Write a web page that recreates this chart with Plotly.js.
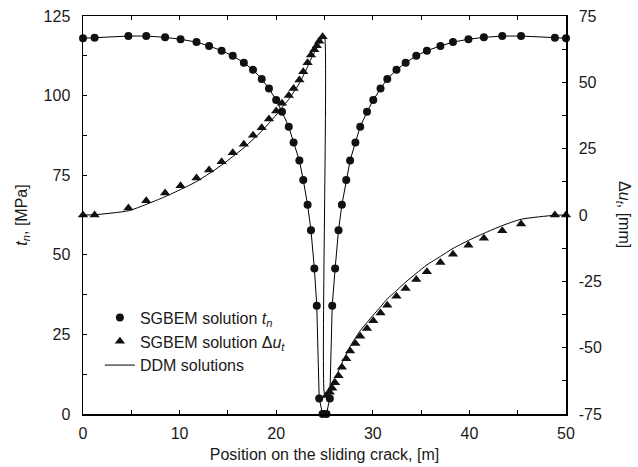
<!DOCTYPE html>
<html>
<head>
<meta charset="utf-8">
<script src="https://cdn.plot.ly/plotly-3.0.1.min.js"></script>
<style>html,body{margin:0;padding:0;background:#fff}#chart{width:638px;height:467px}</style>
</head>
<body>
<div id="chart"></div>
<script>
// Positions along the crack [m]
var posLeft  = [0, 1.2, 4.7, 6.55, 8.5, 10.1, 11.75, 13.05, 14.35, 15.5, 16.65, 17.6, 18.5, 19.25, 20.0, 20.6, 21.3, 21.8, 22.4, 22.8, 23.25, 23.6, 23.95, 24.2, 24.45, 24.8];
var posRight = [25.2, 25.55, 25.8, 26.1, 26.45, 26.8, 27.25, 27.65, 28.2, 28.7, 29.4, 30.05, 30.8, 31.5, 32.45, 33.4, 34.5, 35.6, 37.0, 38.3, 39.9, 41.5, 43.4, 45.35, 48.85, 50];
// SGBEM normal traction t_n [MPa]
var tnLeft  = [118.0, 118.2, 118.7, 118.7, 118.3, 117.7, 116.8, 115.6, 114.1, 112.5, 110.3, 108.1, 105.2, 102.2, 98.6, 94.9, 90.2, 85.3, 79.6, 73.5, 65.7, 57.7, 45.7, 34.0, 4.9, 0];
var tnRight = [0, 4.9, 34.0, 45.7, 57.7, 65.7, 73.5, 79.6, 85.3, 90.2, 94.9, 98.6, 102.2, 105.2, 108.1, 110.3, 112.5, 114.1, 115.6, 116.8, 117.7, 118.3, 118.7, 118.7, 118.2, 118.0];
// SGBEM sliding displacement Δu_t [mm]
var duLeft  = [0, 0, 2.6, 5.4, 8.3, 11.0, 13.9, 17.0, 20.1, 23.5, 26.7, 30.1, 32.9, 36.2, 39.2, 42.1, 45.0, 47.7, 50.9, 54.0, 57.4, 60.3, 62.3, 63.8, 65.5, 67.2];
var duRight = [-68.0, -66.8, -65.3, -63.2, -60.6, -57.4, -54.2, -51.3, -48.4, -45.7, -42.8, -39.9, -36.9, -34.0, -30.6, -27.7, -24.3, -21.4, -17.9, -14.8, -11.4, -8.8, -5.9, -3.4, 0, 0];
// DDM solution for Δu_t [mm]
var ddmDuX = [0, 1.2, 4.7, 6.55, 8.5, 10.1, 11.75, 13.05, 14.35, 15.5, 16.65, 17.6, 18.5, 19.25, 20.0, 20.6, 21.3, 21.8, 22.4, 22.8, 23.25, 23.6, 23.95, 24.2, 24.45, 24.8, 25, 25, 25.2, 25.55, 25.8, 26.1, 26.45, 26.8, 27.25, 27.65, 28.2, 28.7, 29.4, 30.05, 30.8, 31.5, 32.45, 33.4, 34.5, 35.6, 37.0, 38.3, 39.9, 41.5, 43.4, 45.35, 48.85, 50];
var ddmDuY = [0, 0.1, 1.6, 4.0, 6.9, 9.6, 12.6, 15.6, 18.8, 22.0, 25.3, 28.5, 31.6, 34.6, 37.7, 40.5, 43.6, 46.3, 49.6, 52.5, 55.9, 58.8, 61.2, 62.9, 64.6, 66.6, 67.5, -67.5, -66.6, -64.6, -62.9, -61.2, -58.8, -55.9, -52.5, -49.6, -46.3, -43.6, -40.5, -37.7, -34.6, -31.6, -28.5, -25.3, -22.0, -18.8, -15.6, -12.6, -9.6, -6.9, -4.0, -1.6, -0.1, 0];

// Tick labels
var xTickVals = [0, 5, 10, 15, 20, 25, 30, 35, 40, 45, 50];
var xTickText = ['0', '', '10', '', '20', '', '30', '', '40', '', '50'];
var y1TickVals = [0, 12.5, 25, 37.5, 50, 62.5, 75, 87.5, 100, 112.5, 125];
var y1TickText = ['0', '', '25', '', '50', '', '75', '', '100', '', '125'];
var y2TickVals = [-75, -62.5, -50, -37.5, -25, -12.5, 0, 12.5, 25, 37.5, 50, 62.5, 75];
var y2TickText = ['-75', '', '-50', '', '-25', '', '0', '', '25', '', '50', '', '75'];

var tnX = posLeft.concat(posRight);
var tnY = tnLeft.concat(tnRight);
var duX = posLeft.concat(posRight);
var duY = duLeft.concat(duRight);

var font = {family: 'Liberation Sans, Arial, sans-serif', size: 16, color: '#1a1a1a'};

var traces = [
  {x: tnX, y: tnY, mode: 'lines', line: {color: '#000', width: 1}, showlegend: false, cliponaxis: false, hoverinfo: 'skip'},
  {x: ddmDuX, y: ddmDuY, yaxis: 'y2', mode: 'lines', line: {color: '#000', width: 1, shape: 'spline', smoothing: 0.6}, showlegend: false, cliponaxis: false, hoverinfo: 'skip'},
  {x: tnX, y: tnY, mode: 'markers', name: 'SGBEM solution <i>t<sub>n</sub></i>', marker: {symbol: 'circle', size: 8, color: '#111'}, cliponaxis: false},
  {x: duX, y: duY, yaxis: 'y2', mode: 'markers', name: 'SGBEM solution Δ<i>u<sub>t</sub></i>', marker: {symbol: 'triangle-up', size: 9, color: '#111'}, cliponaxis: false},
  {x: [null], y: [null], mode: 'lines', name: 'DDM solutions', line: {color: '#000', width: 1}}
];

var axisCommon = {
  tickmode: 'array', ticks: 'inside', ticklen: 4, tickwidth: 1, tickcolor: '#000',
  showline: true, linecolor: '#000', linewidth: 1.5,
  showgrid: false, zeroline: false
};

var layout = {
  width: 638, height: 467,
  margin: {l: 83, r: 72, t: 16, b: 53},
  paper_bgcolor: '#fff', plot_bgcolor: '#fff',
  font: font,
  showlegend: true,
  legend: {x: 0.035, y: 0.285, xanchor: 'left', yanchor: 'top', bgcolor: 'rgba(0,0,0,0)', font: font, itemwidth: 30, tracegroupgap: 0},
  xaxis: Object.assign({}, axisCommon, {
    range: [0, 50], tickvals: xTickVals, ticktext: xTickText, mirror: 'ticks', ticklabelstandoff: 4,
    title: {text: 'Position on the sliding crack, [m]', font: font, standoff: 8}
  }),
  yaxis: Object.assign({}, axisCommon, {
    range: [0, 125], tickvals: y1TickVals, ticktext: y1TickText, ticklabelstandoff: 8,
    title: {text: '<i>t<sub>n</sub></i>, [MPa]', font: font, standoff: 12}
  }),
  yaxis2: Object.assign({}, axisCommon, {
    overlaying: 'y', side: 'right',
    range: [-75, 75], tickvals: y2TickVals, ticktext: y2TickText, ticklabelstandoff: 8
  }),
  annotations: [
    {text: 'Δ<i>u<sub>t</sub></i>, [mm]', xref: 'paper', yref: 'paper', x: 1.12, y: 0.5, xanchor: 'center', yanchor: 'middle', textangle: 90, showarrow: false, font: font}
  ]
};

Plotly.newPlot('chart', traces, layout, {displayModeBar: false, staticPlot: true});
</script>
</body>
</html>
